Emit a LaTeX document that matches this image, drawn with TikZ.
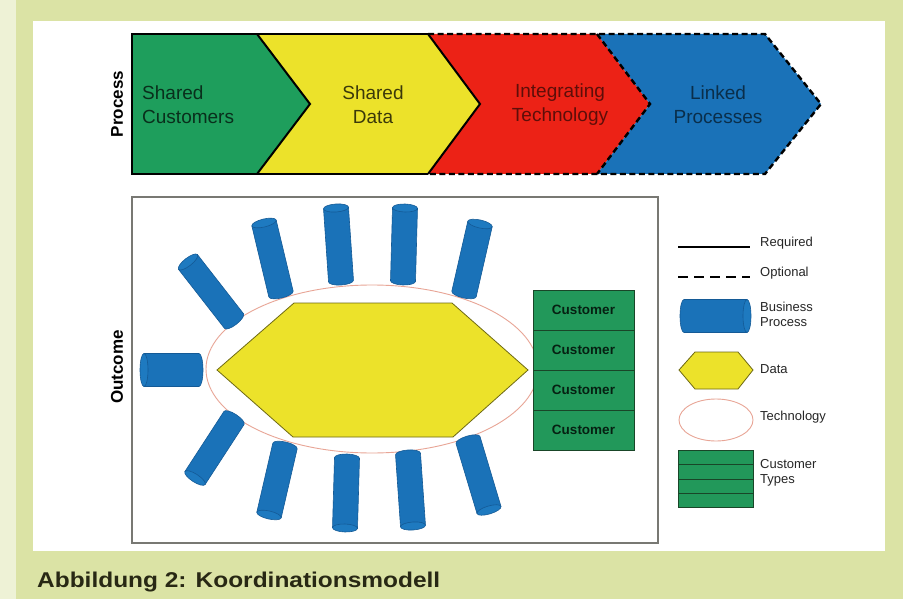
\documentclass[tikz,border=0pt]{standalone}
\usepackage{fontspec}
\setmainfont{Liberation Sans}
\definecolor{bgg}{RGB}{219,227,165}
\definecolor{strip}{RGB}{238,242,214}
\definecolor{cgreen}{RGB}{30,158,92}
\definecolor{cyellow}{RGB}{236,226,42}
\definecolor{cred}{RGB}{236,34,22}
\definecolor{cblue}{RGB}{26,114,184}
\definecolor{cblued}{RGB}{20,90,150}
\definecolor{ccap}{RGB}{30,122,192}
\definecolor{salmon}{RGB}{232,165,150}
\definecolor{boxgray}{RGB}{120,120,115}
\definecolor{olive}{RGB}{110,105,20}
\definecolor{custgreen}{RGB}{34,152,90}
\definecolor{custline}{RGB}{25,70,40}
\definecolor{captxt}{RGB}{40,40,20}
\tikzset{
  solidout/.style={draw=black,line width=2pt,line join=miter},
  dashout/.style={draw=black,line width=2.4pt,dash pattern=on 6pt off 3.5pt},
  bantext/.style={font=\fontsize{19}{24}\selectfont,align=center,inner sep=0pt},
  sidelabel/.style={font=\fontsize{17}{20}\selectfont\bfseries,rotate=90,inner sep=0pt},
  legtext/.style={font=\fontsize{13}{15}\selectfont,anchor=west,inner sep=0pt,text=black!85},
  custtext/.style={font=\fontsize{13.5}{15}\selectfont\bfseries,text=black!80!cgreen,inner sep=0pt},
  cylbody/.style={fill=cblue,draw=cblued,line width=0.6pt},
  cylcap/.style={fill=ccap,draw=cblued,line width=0.6pt},
  hexa/.style={fill=cyellow,draw=olive,line width=0.8pt},
  techell/.style={draw=salmon,line width=0.9pt},
  custbox/.style={fill=custgreen,draw=custline,line width=0.8pt}
}
\newcommand\drawcyl[5]{%
  \pgfmathsetmacro\cylang{atan2(-((#4)-(#2)),(#3)-(#1))-90}%
  \pgfmathsetmacro\cyllen{veclen((#3)-(#1),(#4)-(#2))}%
  \pgfmathsetmacro\cylr{(#5)/2}%
  \begin{scope}[shift={(#1,#2)},rotate=\cylang]
    \filldraw[cylbody] (-\cylr pt,0pt) -- (-\cylr pt,\cyllen pt) -- (\cylr pt,\cyllen pt) -- (\cylr pt,0pt) arc[start angle=0,end angle=-180,x radius=\cylr pt,y radius=4pt] -- cycle;
    \filldraw[cylcap] (0pt,\cyllen pt) ellipse[x radius=\cylr pt,y radius=4pt];
  \end{scope}}
\begin{document}
\begin{tikzpicture}[x=1pt,y=-1pt]
\useasboundingbox (0,0) rectangle (903,599);
% background
\fill[bgg] (0,0) rectangle (903,599);
\fill[strip] (0,0) rectangle (16,599);
\fill[white] (33,21) rectangle (885,551);

% ===== Process banner =====
\fill[cgreen] (132,34) -- (257,34) -- (310,104) -- (257,174) -- (132,174) -- cycle;
\fill[cyellow] (257,34) -- (428,34) -- (480,104) -- (428,174) -- (257,174) -- (310,104) -- cycle;
\fill[cred] (428,34) -- (597,34) -- (650,104) -- (597,174) -- (428,174) -- (480,104) -- cycle;
\fill[cblue] (597,34) -- (765,34) -- (821,104) -- (765,174) -- (597,174) -- (650,104) -- cycle;
\draw[dashout] (428,34) -- (765,34) -- (821,104) -- (765,174) -- (428,174);
\draw[dashout] (597,34) -- (650,104) -- (597,174);
\draw[solidout] (428,34) -- (132,34) -- (132,174) -- (428,174);
\draw[solidout] (257,34) -- (310,104) -- (257,174);
\draw[solidout] (428,34) -- (480,104) -- (428,174);

\node[bantext,align=left,anchor=west,text=cgreen!30!black] (t1) at (142,105) {Shared\\Customers};
\node[bantext,text=cyellow!25!black] (t2) at (373,105) {Shared\\Data};
\node[bantext,text=cred!40!black] (t3) at (560,105) {Integrating\\Technology};
\node[bantext,text=cblue!40!black] (t4) at (718,105) {Linked\\Processes};
\node[sidelabel] (lproc) at (117,104) {Process};

% ===== Outcome box =====
\draw[boxgray,line width=1.2pt] (132,197) rectangle (658,543);
\node[sidelabel] (lout) at (117,367) {Outcome};

\draw[techell] (372,369) ellipse[x radius=166, y radius=84];
\filldraw[hexa] (217,370) -- (294,303) -- (452,303) -- (528,370) -- (453,437) -- (293,437) -- cycle;

\foreach \i/\ya/\yb in {1/290/330,2/330/370,3/370/410,4/410/450}{
  \filldraw[custbox] (533,\ya) rectangle (634,\yb);
  \node[custtext] (cust\i) at (583.5,{(\ya+\yb)/2}) {Customer};
}

% cylinders: inner x,y ; outer x,y ; width
\drawcyl{234}{321}{188}{262}{24}
\drawcyl{281}{294}{264}{223}{25}
\drawcyl{341}{281}{336}{208}{25}
\drawcyl{403}{281}{405}{208}{25}
\drawcyl{464}{294}{480}{224}{25}
\drawcyl{199}{370}{144}{370}{33}
\drawcyl{234}{418}{195}{478}{24}
\drawcyl{285}{446}{269}{515}{25}
\drawcyl{347}{458}{345}{528}{25}
\drawcyl{408}{454}{413}{526}{25}
\drawcyl{468}{440}{489}{510}{25}

% ===== Legend =====
\coordinate (rq1) at (678,247); \coordinate (rq2) at (750,247);
\draw[black,line width=2.2pt] (rq1) -- (rq2);
\node[legtext] (lreq) at (760,243) {Required};
\coordinate (op1) at (678,277); \coordinate (op2) at (750,277);
\draw[black,line width=2.2pt,dash pattern=on 10pt off 6pt] (op1) -- (op2);
\node[legtext] (lopt) at (760,273) {Optional};
\drawcyl{684}{316}{747}{316}{33}
\node[legtext,align=left] (lbp) at (760,314) {Business\\Process};
\filldraw[hexa] (679,370) -- (695,352) -- (738,352) -- (753,370) -- (738,389) -- (695,389) -- cycle;
\node[legtext] (ldata) at (760,369) {Data};
\draw[techell] (716,420) ellipse[x radius=37, y radius=21];
\node[legtext] (ltech) at (760,417) {Technology};
\filldraw[custbox] (678,450) rectangle (753,507);
\draw[custline,line width=0.8pt] (678,464) -- (753,464) (678,479) -- (753,479) (678,493) -- (753,493);
\node[legtext,align=left] (lct) at (760,473) {Customer\\Types};

% caption
\node[anchor=base west,inner sep=0pt,text=captxt] (cap) at (37,587) {\resizebox{403pt}{15.5pt}{\bfseries Abbildung 2: Koordinationsmodell}};
\end{tikzpicture}
\end{document}
